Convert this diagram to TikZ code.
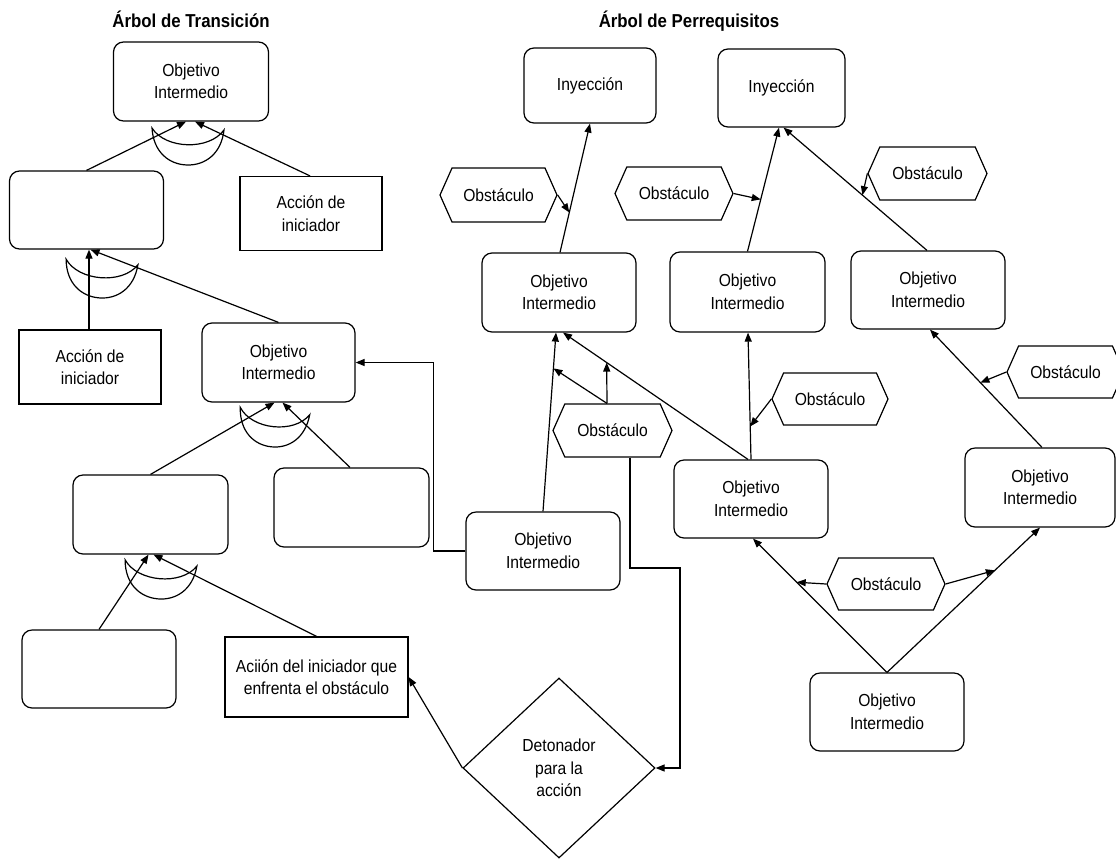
\documentclass[tikz,border=0pt]{standalone}
\usepackage{fontspec}
\setmainfont{Liberation Sans}[FakeStretch=0.9]
\usetikzlibrary{arrows.meta,shapes.geometric,shapes.symbols,calc}

\tikzset{
  base/.style={draw, line width=1.2pt, inner sep=0pt, align=center,
               font=\fontsize{17.4}{22.5}\selectfont},
  goal/.style={base, rounded corners=10pt},
  actbox/.style={base},
  obst/.style={base, signal, signal to=west and east, signal pointer angle=132},
  trig/.style={base, diamond},
  heading/.style={font=\bfseries\fontsize{18.7}{20}\selectfont, inner sep=0pt, anchor=base},
  link/.style={line width=1.2pt, -{Triangle[length=9pt,width=7pt]}},
  wire/.style={line width=1.2pt},
}

% AND connector (crescent) centred between its two tips, with a small tilt
\newcommand\andjoin[4]{%
  \draw[wire, shift={(#1,#2)}, rotate=#3, xscale=#4]
    (-36,0) .. controls (-22,21) and (22,21) .. (36,0)
            .. controls (34,24) and (18,36) .. (0,36)
            .. controls (-18,36) and (-34,24) .. (-36,0) -- cycle;}

\begin{document}
\begin{tikzpicture}[x=1pt,y=-1pt]
\useasboundingbox (0,0) rectangle (1116,860);

% headings
\node[heading] (tT) at (191,27) {Árbol de Transición};
\node[heading] (tP) at (689,27) {Árbol de Perrequisitos};

% ---------- transition tree ----------
\node[goal, minimum width=155, minimum height=79] (oiT) at (191,81.5) {Objetivo\\Intermedio};
\node[goal, minimum width=154, minimum height=78] (b1) at (86.5,210) {};
\node[actbox, minimum width=142, minimum height=74] (act1) at (311,213.5) {Acción de\\iniciador};
\node[actbox, minimum width=142, minimum height=74] (act2) at (90,367) {Acción de\\iniciador};
\node[goal, minimum width=153, minimum height=79] (oi2) at (278.5,362.5) {Objetivo\\Intermedio};
\node[goal, minimum width=155, minimum height=79] (b3) at (150.5,514.5) {};
\node[goal, minimum width=155, minimum height=79] (b4) at (351.5,507.5) {};
\node[goal, minimum width=154, minimum height=78] (b5) at (99,669) {};
\node[actbox, minimum width=183, minimum height=80] (acc) at (316.5,677) {Aciión del iniciador que\\enfrenta el obstáculo};
\node[trig, minimum width=192, minimum height=180] (det) at (559,768) {Detonador\\para la\\acción};

\andjoin{188}{129}{-1.5}{1}
\andjoin{102}{262}{-4.5}{1}
\andjoin{275}{411}{-6}{0.97}
\andjoin{161}{563}{-5}{1}

\draw[link] (b1.north) -- ([xshift=-5pt]oiT.south);
\draw[link] ([xshift=-1pt]act1.north) -- ([xshift=4pt]oiT.south);
\draw[link] ([xshift=-1pt]act2.north) -- ([xshift=-1pt]act2.north |- b1.south);
\draw[link] (oi2.north) -- ([xshift=4pt]b1.south);
\draw[link] (b3.north) -- ([xshift=-4pt]oi2.south);
\draw[link] ([xshift=-1.5pt]b4.north) -- ([xshift=4pt]oi2.south);
\draw[link] (b5.north) -- ([xshift=-2pt]b3.south);
\draw[link] (acc.north) -- ([xshift=3pt]b3.south);
\draw[link] (det.west) -- (acc.east);

% ---------- prerequisite tree ----------
\node[goal, minimum width=132, minimum height=75] (inj1) at (590,85.5) {Inyección};
\node[goal, minimum width=127, minimum height=78] (inj2) at (781.5,88) {Inyección};
\node[obst, minimum width=117, minimum height=54] (ob1) at (498.5,195) {Obstáculo};
\node[obst, minimum width=118, minimum height=53] (ob2) at (674,193.5) {Obstáculo};
\node[obst, minimum width=119, minimum height=53] (ob3) at (927.5,173.5) {Obstáculo};
\node[obst, minimum width=117, minimum height=52] (ob4) at (1065.5,372) {Obstáculo};
\node[goal, minimum width=154, minimum height=79] (oiA) at (559,292.5) {Objetivo\\Intermedio};
\node[goal, minimum width=155, minimum height=80] (oiB) at (747.5,292) {Objetivo\\Intermedio};
\node[goal, minimum width=154, minimum height=78] (oiC) at (928,290) {Objetivo\\Intermedio};
\node[goal, minimum width=150, minimum height=79] (oiD) at (1040,487.5) {Objetivo\\Intermedio};
\node[obst, minimum width=116, minimum height=52] (ob6) at (830,399) {Obstáculo};
\node[obst, minimum width=119, minimum height=53] (obM) at (612.5,430.5) {Obstáculo};
\node[goal, minimum width=154, minimum height=78] (oiM) at (751,499) {Objetivo\\Intermedio};
\node[goal, minimum width=154, minimum height=78] (oiX) at (543,551) {Objetivo\\Intermedio};
\node[obst, minimum width=118, minimum height=52] (ob5) at (886,584) {Obstáculo};
\node[goal, minimum width=154, minimum height=78] (oiE) at (887,712) {Objetivo\\Intermedio};

\coordinate (k1) at (680,568);

% links between the two trees
\draw[link] (oiX.west) -- ++(-32,0) |- (oi2.east);
\draw[link] ([xshift=17.5pt]obM.south) |- (k1) |- (det.east);

\draw[link] ([xshift=1pt]oiA.north) -- (inj1.south);
\draw[link] (ob1.east) -- ($([xshift=1pt]oiA.north)!0.31!(inj1.south)$);
\draw[link] (oiB.north) -- ([xshift=-2.5pt]inj2.south);
\draw[link] (ob2.east) -- ($(oiB.north)!0.42!([xshift=-2.5pt]inj2.south)$);
\draw[link] ([xshift=-1pt]oiC.north) -- ([xshift=2pt]inj2.south);
\draw[link] (ob3.west) -- ($([xshift=-1pt]oiC.north)!0.45!([xshift=2pt]inj2.south)$);
\draw[link] ([xshift=2pt]oiD.north) -- ([xshift=2pt]oiC.south);
\draw[link] (ob4.west) -- ($([xshift=2pt]oiD.north)!0.55!([xshift=2pt]oiC.south)$);
\draw[link] (oiM.north) -- ([xshift=0.5pt]oiB.south);
\draw[link] (ob6.west) -- ($(oiM.north)!0.26!([xshift=0.5pt]oiB.south)$);
\draw[link] ([xshift=-3pt]oiM.north) -- ([xshift=4pt]oiA.south);
\draw[link] (oiX.north) -- ([xshift=-3pt]oiA.south);
\draw[link] ([xshift=-5.5pt]obM.north) -- ($(oiX.north)!0.8!([xshift=-3pt]oiA.south)$);
\draw[link] ([xshift=-5.5pt]obM.north) -- ($([xshift=-3pt]oiM.north)!0.764!([xshift=4pt]oiA.south)$);
\draw[link] (oiE.north) -- ([xshift=2pt]oiM.south);
\draw[link] (oiE.north) -- (oiD.south);
\draw[link] (ob5.west) -- ($(oiE.north)!0.674!([xshift=2pt]oiM.south)$);
\draw[link] (ob5.east) -- ($(oiE.north)!0.705!(oiD.south)$);

\end{tikzpicture}
\end{document}
